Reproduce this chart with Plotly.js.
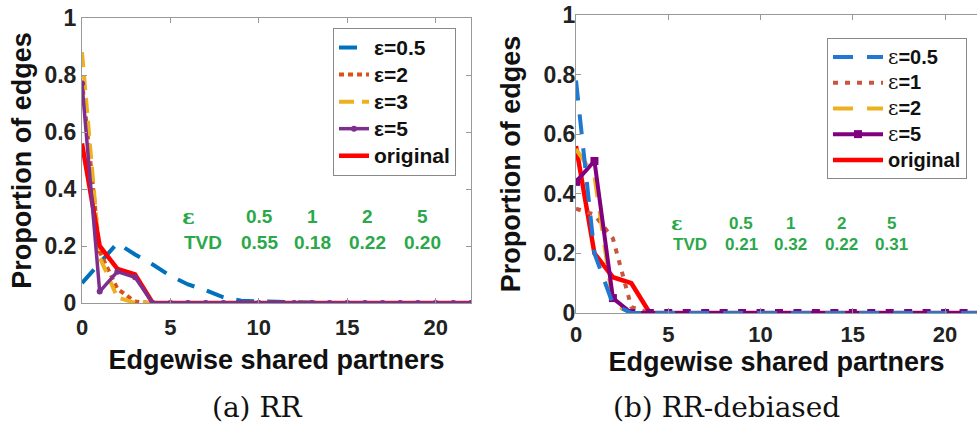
<!DOCTYPE html>
<html>
<head>
<meta charset="utf-8">
<script src="https://cdn.plot.ly/plotly-3.0.1.min.js"></script>
<style>html,body{margin:0;padding:0;background:#fff;overflow:hidden}</style>
</head>
<body>
<div id="chart" style="width:977px;height:423px"></div>
<script>
// ---- data ----
const xShared = [0,1,2,3,4,5,6,7,8,9,10,11,12,13,14,15,16,17,18,19,20,21,22];

// (a) RR
const rrEps05 = [0.07,0.14,0.21,0.17,0.135,0.095,0.065,0.045,0.02,0.008,0.005,0.004,0.003,0,0,0,0,0,0,0,0,0,0];
const rrEps2  = [0.78,0.18,0.05,0.005,0,0,0,0,0,0,0,0,0,0,0,0,0,0,0,0,0,0,0];
const rrEps3  = [0.88,0.16,0.02,0,0,0,0,0,0,0,0,0,0,0,0,0,0,0,0,0,0,0,0];
const rrEps5  = [0.77,0.04,0.11,0.09,0,0,0,0,0,0,0,0,0,0,0,0,0,0,0,0,0,0,0];
const original = [0.56,0.20,0.12,0.10,0,0,0,0,0,0,0,0,0,0,0,0,0,0,0,0,0,0,0];

// (b) RR-debiased
const dbEps05 = [0.78,0.20,0.03,0,0,0,0,0,0,0,0,0,0,0,0,0,0,0,0,0,0,0,0];
const dbEps1  = [0.35,0.33,0.25,0.02,0,0,0,0,0,0,0,0,0,0,0,0,0,0,0,0,0,0,0];
const dbEps2  = [0.55,0.46,0.03,0,0,0,0,0,0,0,0,0,0,0,0,0,0,0,0,0,0,0,0];
const dbEps5  = [0.44,0.51,0.05,0,0,0,0,0,0,0,0,0,0,0,0,0,0,0,0,0,0,0,0];

// TVD tables
const tvdEps = ['0.5','1','2','5'];
const tvdRR = ['0.55','0.18','0.22','0.20'];
const tvdDB = ['0.21','0.32','0.22','0.31'];

const xTicks = [0,5,10,15,20];
const yTicks = [0,0.2,0.4,0.6,0.8,1];
const yTickText = ['0','0.2','0.4','0.6','0.8','1'];

// ---- styling ----
const SANS = 'Liberation Sans, Arial, sans-serif';
const SERIF = 'DejaVu Serif, serif';
const GREEN = '#2aa84a';
const W = 977, H = 423;
const px = v => v / W, py = v => 1 - v / H;
const big = (t, s) => '<span style="font-size:' + s + 'px">' + t + '</span>';
const serifEps = '<span style="font-family:DejaVu Serif;font-weight:normal">ε</span>';

const traces = [
  // left plot
  {x:xShared, y:rrEps05, name:big('ε=0.5',21), legend:'legend', legendrank:1, xaxis:'x', yaxis:'y', mode:'lines',
   line:{color:'#0072BD', width:4, dash:'18px,13px'}},
  {x:xShared, y:rrEps2, name:big('ε=2',21), legend:'legend', legendrank:2, xaxis:'x', yaxis:'y', mode:'lines',
   line:{color:'#D95319', width:4, dash:'5px,4px'}},
  {x:xShared, y:rrEps3, name:big('ε=3',21), legend:'legend', legendrank:3, xaxis:'x', yaxis:'y', mode:'lines',
   line:{color:'#EDB120', width:4, dash:'15px,8px'}},
  {x:xShared, y:original, name:big('original',21), legend:'legend', legendrank:5, xaxis:'x', yaxis:'y', mode:'lines',
   line:{color:'#FF0000', width:4.5}},
  {x:xShared, y:rrEps5, name:big('ε=5',21), legend:'legend', legendrank:4, xaxis:'x', yaxis:'y', mode:'lines+markers',
   line:{color:'#7E2F8E', width:3.5}, marker:{color:'#7E2F8E', size:6, symbol:'circle'}},
  // right plot
  {x:xShared, y:original, name:big('original',20), legend:'legend2', legendrank:5, xaxis:'x2', yaxis:'y2', mode:'lines',
   line:{color:'#FF0000', width:4.5}},
  {x:xShared, y:dbEps1, name:big(serifEps+'=1',20), legend:'legend2', legendrank:2, xaxis:'x2', yaxis:'y2', mode:'lines',
   line:{color:'#C9553F', width:4, dash:'5px,7px'}},
  {x:xShared, y:dbEps2, name:big(serifEps+'=2',20), legend:'legend2', legendrank:3, xaxis:'x2', yaxis:'y2', mode:'lines',
   line:{color:'#EDB120', width:4, dash:'20px,14px'}},
  {x:xShared, y:dbEps5, name:big(serifEps+'=5',20), legend:'legend2', legendrank:4, xaxis:'x2', yaxis:'y2', mode:'lines+markers',
   line:{color:'#800080', width:4}, marker:{color:'#800080', size:8, symbol:'square'}},
  {x:xShared, y:dbEps05, name:big(serifEps+'=0.5',20), legend:'legend2', legendrank:1, xaxis:'x2', yaxis:'y2', mode:'lines',
   line:{color:'#1F78D1', width:4, dash:'20px,14px'}}
];

function xAxis(domain, range, lblOff, standoff){
  return {domain:domain, range:range, tickvals:xTicks, ticks:'inside', ticklen:5, tickcolor:'#999',
    showline:true, linecolor:'#999', linewidth:1, mirror:'allticks', showgrid:false, zeroline:false,
    ticklabelstandoff:lblOff,
    tickfont:{family:SANS, size:22, color:'#222', weight:'bold'},
    title:{text:'Edgewise shared partners', font:{family:SANS, size:27, color:'#111', weight:'bold'}, standoff:standoff}};
}
function yAxis(domain, anchor, mirror, lblOff, standoff){
  return {domain:domain, range:[0,1], tickvals:yTicks, ticktext:yTickText, ticks:'inside', ticklen:5, tickcolor:'#999',
    showline:true, linecolor:'#999', linewidth:1, mirror:mirror, showgrid:false, zeroline:false, anchor:anchor,
    ticklabelstandoff:lblOff,
    tickfont:{family:SANS, size:23, color:'#222', weight:'bold'},
    title:{text:'Proportion of edges', font:{family:SANS, size:27, color:'#111', weight:'bold'}, standoff:standoff}};
}

const annotations = [];
function ann(x, y, text, font){
  annotations.push({xref:'paper', yref:'paper', x:px(x), y:py(y), xanchor:'center', yanchor:'middle',
    text:text, showarrow:false, font:font});
}
function table(cols, yEps, yTvd, epsX, tvdX, vals, size){
  ann(epsX, yEps, 'ε', {family:SERIF, size:size+2, color:GREEN, weight:'bold'});
  ann(tvdX, yTvd, 'TVD', {family:SANS, size:size, color:GREEN, weight:'bold'});
  cols.forEach((cx, i) => {
    ann(cx, yEps, tvdEps[i], {family:SANS, size:size, color:GREEN, weight:'bold'});
    ann(cx, yTvd, vals[i], {family:SANS, size:size, color:GREEN, weight:'bold'});
  });
}
table([259,312,367,422], 217, 242, 188, 203, tvdRR, 19);
table([741,790,841,891], 223, 245, 677, 690, tvdDB, 17);

ann(257, 407, '(a) RR', {family:SERIF, size:28, color:'#111'});
ann(726, 407, '(b) RR-debiased', {family:SERIF, size:28, color:'#111'});

const layout = {
  width:W, height:H, margin:{l:0, r:0, t:0, b:0}, paper_bgcolor:'#fff', plot_bgcolor:'#fff',
  xaxis: xAxis([px(82), px(471)], [0,22], 5, 10),
  yaxis: yAxis([py(303), py(18)], 'x', 'allticks', 0, 4),
  xaxis2: Object.assign(xAxis([px(576), 1], [0,21.73], 2, 3), {anchor:'y2'}),
  yaxis2: yAxis([py(313), py(15)], 'x2', false, -5, 14),
  legend:{x:px(333), y:py(28), xanchor:'left', yanchor:'top', bgcolor:'#fff', bordercolor:'#888', borderwidth:1,
    font:{family:SANS, size:18.5, color:'#111', weight:'bold'}},
  legend2:{x:px(827), y:py(38), xanchor:'left', yanchor:'top', bgcolor:'#fff', bordercolor:'#888', borderwidth:1,
    font:{family:SANS, size:17.5, color:'#111', weight:'bold'}, itemwidth:50},
  showlegend:true,
  annotations: annotations
};

Plotly.newPlot('chart', traces, layout, {staticPlot:true, displayModeBar:false});
</script>
</body>
</html>
